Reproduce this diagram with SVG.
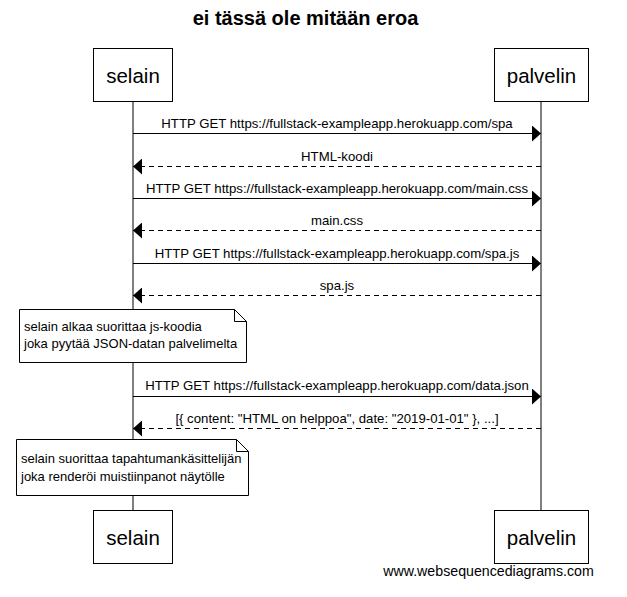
<svg xmlns="http://www.w3.org/2000/svg" width="627" height="597" viewBox="0 0 627 597">
<style>
text{font-family:"Liberation Sans",Arial,sans-serif;fill:#000}
.box{fill:#fff;stroke:#000;stroke-width:1}
.life{stroke:#000;stroke-width:1}
.msg{font-size:13.2px;text-anchor:middle}
.part{font-size:20.5px;text-anchor:middle}
.note{font-size:13px}
.solid{stroke:#000;stroke-width:1;fill:none}
.dash{stroke:#000;stroke-width:1;fill:none;stroke-dasharray:5,4}
</style>
<defs>
<marker id="ah" markerWidth="9" markerHeight="16" refX="9" refY="8" orient="auto" markerUnits="userSpaceOnUse">
<path d="M0,0 L9,8 L0,16 Z" fill="#000"/>
</marker>
</defs>
<rect width="627" height="597" fill="#fff"/>
<text x="305.5" y="24.5" font-size="20" font-weight="bold" text-anchor="middle">ei tässä ole mitään eroa</text>
<g id="lifelines">
<line class="life" x1="133" y1="101" x2="133" y2="510"/>
<line class="life" x1="541" y1="101" x2="541" y2="510"/>
</g>
<g id="selain-top"><rect class="box" x="93.5" y="48.5" width="79" height="53"/><text class="part" x="133" y="83">selain</text></g>
<g id="palvelin-top"><rect class="box" x="494.5" y="48.5" width="94" height="53"/><text class="part" x="541.5" y="83">palvelin</text></g>
<g id="selain-bottom"><rect class="box" x="93.5" y="510.5" width="79" height="53"/><text class="part" x="133" y="545">selain</text></g>
<g id="palvelin-bottom"><rect class="box" x="494.5" y="510.5" width="94" height="53"/><text class="part" x="541.5" y="545">palvelin</text></g>
<g id="connectors">
<line class="solid" x1="133" y1="133.5" x2="541" y2="133.5" marker-end="url(#ah)"/>
<text class="msg" x="337" y="128">HTTP GET https://fullstack-exampleapp.herokuapp.com/spa</text>
<line class="dash" x1="541" y1="166.5" x2="133" y2="166.5" marker-end="url(#ah)"/>
<text class="msg" x="337" y="161">HTML-koodi</text>
<line class="solid" x1="133" y1="198.5" x2="541" y2="198.5" marker-end="url(#ah)"/>
<text class="msg" x="337" y="193">HTTP GET https://fullstack-exampleapp.herokuapp.com/main.css</text>
<line class="dash" x1="541" y1="230.5" x2="133" y2="230.5" marker-end="url(#ah)"/>
<text class="msg" x="337" y="225">main.css</text>
<line class="solid" x1="133" y1="263.5" x2="541" y2="263.5" marker-end="url(#ah)"/>
<text class="msg" x="337" y="258">HTTP GET https://fullstack-exampleapp.herokuapp.com/spa.js</text>
<line class="dash" x1="541" y1="295.5" x2="133" y2="295.5" marker-end="url(#ah)"/>
<text class="msg" x="337" y="290">spa.js</text>
<line class="solid" x1="133" y1="396.5" x2="541" y2="396.5" marker-end="url(#ah)"/>
<text class="msg" x="337" y="390">HTTP GET https://fullstack-exampleapp.herokuapp.com/data.json</text>
<line class="dash" x1="541" y1="428.5" x2="133" y2="428.5" marker-end="url(#ah)"/>
<text class="msg" x="337" y="423">[{ content: "HTML on helppoa", date: "2019-01-01" }, ...]</text>
</g>
<g id="note1">
<path class="box" d="M19.5,309.5 H234.5 L246.5,321.5 V362.5 H19.5 Z"/>
<path class="solid" d="M234.5,309.5 V321.5 H246.5"/>
<text class="note" x="24" y="331">selain alkaa suorittaa js-koodia</text>
<text class="note" x="24" y="348">joka pyytää JSON-datan palvelimelta</text>
</g>
<g id="note2">
<path class="box" d="M16.5,439.5 H236.5 L248.5,451.5 V495.5 H16.5 Z"/>
<path class="solid" d="M236.5,439.5 V451.5 H248.5"/>
<text class="note" x="21" y="463">selain suorittaa tapahtumankäsittelijän</text>
<text class="note" x="21" y="481">joka renderöi muistiinpanot näytölle</text>
</g>
<text x="488.5" y="576" font-size="14.2" text-anchor="middle">www.websequencediagrams.com</text>
</svg>
